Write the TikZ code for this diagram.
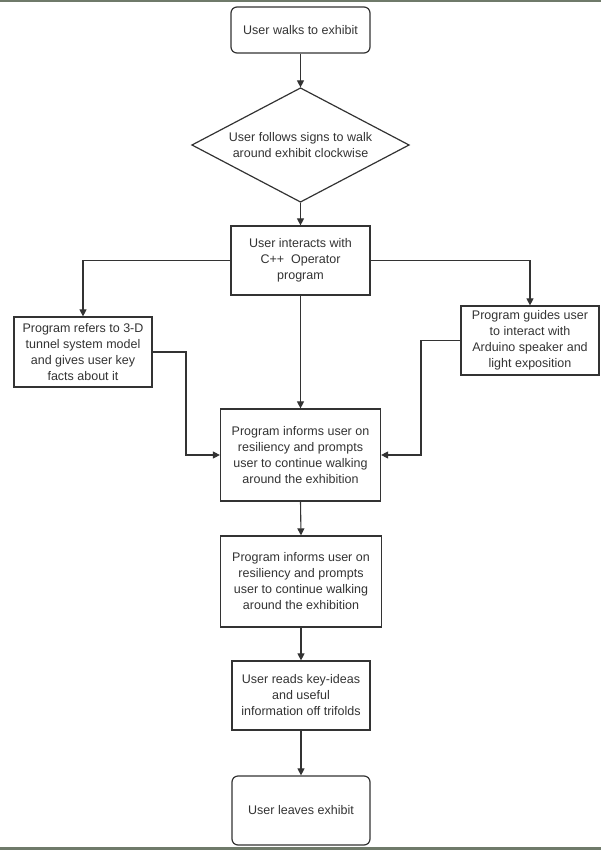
\documentclass[tikz,border=0pt]{standalone}
\usepackage{fontspec}
\setmainfont{Liberation Sans}
\usetikzlibrary{shapes.geometric,arrows.meta}
\definecolor{ln}{HTML}{333333}
\definecolor{frame}{HTML}{6F7A6A}
\begin{document}
\begin{tikzpicture}[x=1pt,y=-1pt,
  box/.style={draw=ln,line width=1.2pt,align=center,inner sep=1pt,text=ln,font=\fontsize{12.5}{16}\selectfont},
  rbox/.style={box,rounded corners=6pt},
  dia/.style={box,diamond,aspect=1.9,inner sep=0pt},
  arr/.style={draw=ln,line width=1.1pt,-{Triangle[length=7pt,width=7pt]}}]
\useasboundingbox (0,0) rectangle (601,850);
\fill[frame] (0,0) rectangle (601,2);
\fill[frame] (0,847) rectangle (601,850);
\node[rbox,minimum width=139,minimum height=46] (a) at (300.5,30) {User walks to exhibit};
\node[box,draw=none,minimum width=217,minimum height=114] (bb) at (300.5,145) {};
\draw[ln,line width=1.2pt] (192,145) -- (300.5,88) -- (409,145) -- (300.5,202) -- cycle;
\node[text=ln,align=center,font=\fontsize{12.5}{16}\selectfont] (bt) at (300.5,145) {User follows signs to walk\\around exhibit clockwise};
\node[box,minimum width=139,minimum height=69] (c) at (300.5,260.5) {User interacts with\\C++\ \ Operator\\program};
\node[box,minimum width=138,minimum height=70] (l) at (83,352) {Program refers to 3-D\\tunnel system model\\and gives user key\\facts about it};
\node[box,minimum width=138,minimum height=69] (r) at (530,340.5) {Program guides user\\to interact with\\Arduino speaker and\\light exposition};
\node[box,minimum width=160,minimum height=92] (m) at (300.5,455) {Program informs user on\\resiliency and prompts\\user to continue walking\\around the exhibition};
\node[box,minimum width=161,minimum height=91] (n) at (301,581.5) {Program informs user on\\resiliency and prompts\\user to continue walking\\around the exhibition};
\node[box,minimum width=138,minimum height=69] (t) at (301,695.5) {User reads key-ideas\\and useful\\information off trifolds};
\node[rbox,minimum width=138,minimum height=69] (e) at (301,810.5) {User leaves exhibit};
\draw[arr] (a.south) -- (bb.north);
\draw[arr] (bb.south) -- (c.north);
\draw[arr] (c.west) -| (l.north);
\draw[arr] (c.east) -| (r.north);
\draw[arr] (c.south) -- (m.north);
\draw[arr] (l.east) -- (186,352) |- (m.west);
\draw[arr] (r.west) -- (421,340.5) |- (m.east);
\draw[arr] (m.south) -- (n.north);
\draw[arr] (n.south) -- (t.north);
\draw[arr] (t.south) -- (e.north);
\end{tikzpicture}
\end{document}
